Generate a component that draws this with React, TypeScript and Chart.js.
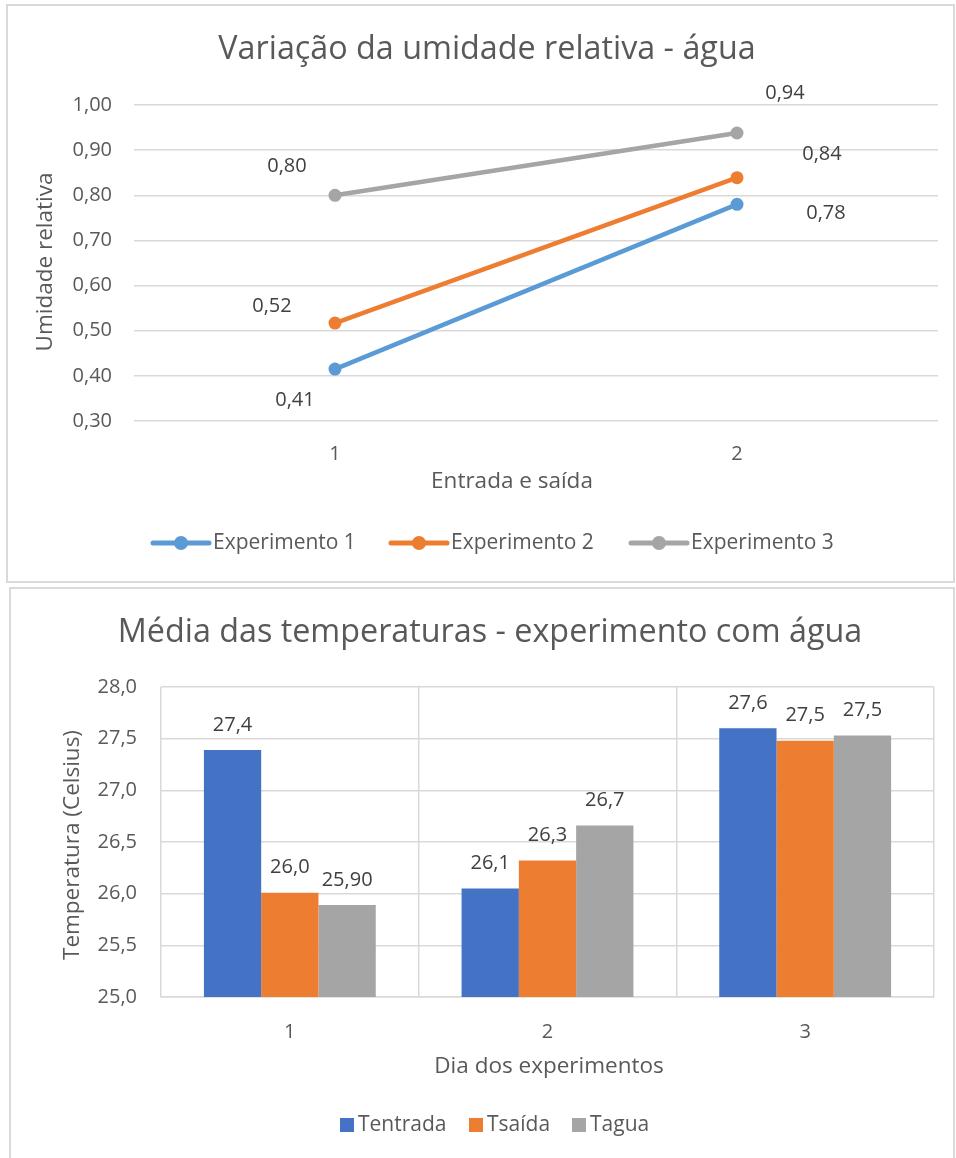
import React, { useEffect, useRef } from "react";
import { Chart, registerables } from "chart.js";

Chart.register(...registerables);

const FONT = "'Open Sans', sans-serif";
const TEXT_COLOR = "#595959";
const LABEL_COLOR = "#404040";
const GRID_COLOR = "#D9D9D9";

// ---------- Chart 1: Variação da umidade relativa - água ----------
const humidityTitle = "Variação da umidade relativa - água";
const humidityXTitle = "Entrada e saída";
const humidityYTitle = "Umidade relativa";
const humidityCategories = ["1", "2"];
const humiditySeriesNames = ["Experimento 1", "Experimento 2", "Experimento 3"];
const experimento1 = [0.415, 0.78];
const experimento2 = [0.517, 0.839];
const experimento3 = [0.8, 0.938];
const experimento1Labels = ["0,41", "0,78"];
const experimento2Labels = ["0,52", "0,84"];
const experimento3Labels = ["0,80", "0,94"];
const humidityMin = 0.3;
const humidityMax = 1.0;
const humidityStep = 0.1;

// ---------- Chart 2: Média das temperaturas ----------
const tempTitle = "Média das temperaturas - experimento com água";
const tempXTitle = "Dia dos experimentos";
const tempYTitle = "Temperatura (Celsius)";
const dayCategories = ["1", "2", "3"];
const tempSeriesNames = ["Tentrada", "Tsaída", "Tagua"];
const tEntrada = [27.39, 26.05, 27.6];
const tSaida = [26.01, 26.32, 27.48];
const tAgua = [25.89, 26.66, 27.53];
const tEntradaLabels = ["27,4", "26,1", "27,6"];
const tSaidaLabels = ["26,0", "26,3", "27,5"];
const tAguaLabels = ["25,90", "26,7", "27,5"];
const tempMin = 25;
const tempMax = 28;
const tempStep = 0.5;

// styles (kept apart from data)
const lineColors = ["#5B9BD5", "#ED7D31", "#A5A5A5"];
const barColors = ["#4472C4", "#ED7D31", "#A5A5A5"];
const lineLabelOffsets = [
  [[-40, 31], [89, 9]],
  [[-63, -17], [85, -23]],
  [[-48, -29], [48, -40]],
];

type TextSpec = { text: string; x: number; y: number; size: number; rotate?: boolean };

function drawText(ctx: CanvasRenderingContext2D, t: TextSpec, color: string) {
  ctx.save();
  ctx.fillStyle = color;
  ctx.font = `${t.size}px ${FONT}`;
  ctx.textAlign = "center";
  ctx.textBaseline = "middle";
  ctx.translate(t.x, t.y);
  if (t.rotate) ctx.rotate(-Math.PI / 2);
  ctx.fillText(t.text, 0, 0);
  ctx.restore();
}

function HumidityChart() {
  const ref = useRef<HTMLCanvasElement | null>(null);
  useEffect(() => {
    if (!ref.current) return;
    const allLabels = [experimento1Labels, experimento2Labels, experimento3Labels];
    const decor = {
      id: "decor1",
      afterDatasetsDraw(chart: any) {
        const ctx = chart.ctx as CanvasRenderingContext2D;
        ctx.save();
        ctx.font = `20px ${FONT}`;
        ctx.fillStyle = LABEL_COLOR;
        ctx.textAlign = "center";
        ctx.textBaseline = "middle";
        chart.data.datasets.forEach((_: any, di: number) => {
          const meta = chart.getDatasetMeta(di);
          meta.data.forEach((el: any, i: number) => {
            const off = lineLabelOffsets[di][i];
            ctx.fillText(allLabels[di][i], el.x + off[0], el.y + off[1]);
          });
        });
        ctx.restore();
      },
      afterDraw(chart: any) {
        const ctx = chart.ctx as CanvasRenderingContext2D;
        drawText(ctx, { text: humidityTitle, x: 487, y: 50, size: 32.3 }, TEXT_COLOR);
        drawText(ctx, { text: humidityXTitle, x: 512, y: 482, size: 22.5 }, TEXT_COLOR);
        drawText(ctx, { text: humidityYTitle, x: 46, y: 262, size: 22.5, rotate: true }, TEXT_COLOR);
        // legend
        const starts = [153, 391, 631];
        const ly = 543;
        humiditySeriesNames.forEach((name, i) => {
          const x0 = starts[i];
          ctx.save();
          ctx.strokeStyle = lineColors[i];
          ctx.lineWidth = 5;
          ctx.lineCap = "round";
          ctx.beginPath();
          ctx.moveTo(x0, ly);
          ctx.lineTo(x0 + 56, ly);
          ctx.stroke();
          ctx.fillStyle = lineColors[i];
          ctx.beginPath();
          ctx.arc(x0 + 28, ly, 7, 0, Math.PI * 2);
          ctx.fill();
          ctx.fillStyle = TEXT_COLOR;
          ctx.font = `21px ${FONT}`;
          ctx.textAlign = "left";
          ctx.textBaseline = "middle";
          ctx.fillText(name, x0 + 60, ly);
          ctx.restore();
        });
      },
    };
    const series = [experimento1, experimento2, experimento3];
    const chart = new Chart(ref.current, {
      type: "line",
      data: {
        labels: humidityCategories,
        datasets: series.map((d, i) => ({
          label: humiditySeriesNames[i],
          data: d,
          borderColor: lineColors[i],
          backgroundColor: lineColors[i],
          borderWidth: 4.5,
          pointRadius: 6.5,
          pointBorderWidth: 0,
          pointBackgroundColor: lineColors[i],
          tension: 0,
        })),
      },
      options: {
        responsive: false,
        animation: false,
        devicePixelRatio: 1,
        layout: { padding: { left: 54, right: 18, top: 105, bottom: 113 } },
        plugins: { legend: { display: false }, title: { display: false }, tooltip: { enabled: false } },
        scales: {
          x: {
            type: "category",
            offset: true,
            grid: { display: false, drawTicks: false },
            border: { display: false },
            ticks: { color: TEXT_COLOR, font: { family: FONT, size: 20 }, padding: 21 },
            afterFit: (s: any) => { s.height = 50; },
          },
          y: {
            min: humidityMin,
            max: humidityMax,
            grid: { color: GRID_COLOR, lineWidth: 1.5, drawTicks: false },
            border: { display: false },
            ticks: {
              stepSize: humidityStep,
              color: TEXT_COLOR,
              font: { family: FONT, size: 20 },
              padding: 22,
              callback: (v: any) => Number(v).toFixed(2).replace(".", ","),
            },
            afterFit: (s: any) => { s.width = 80; },
          },
        },
      },
      plugins: [decor],
    } as any);
    return () => chart.destroy();
  }, []);
  return (
    <canvas ref={ref} width={956} height={584} style={{ position: "absolute", left: 0, top: 0, width: 956, height: 584 }} />
  );
}

function TempChart() {
  const ref = useRef<HTMLCanvasElement | null>(null);
  useEffect(() => {
    if (!ref.current) return;
    const allLabels = [tEntradaLabels, tSaidaLabels, tAguaLabels];
    const decor = {
      id: "decor2",
      afterDatasetsDraw(chart: any) {
        const ctx = chart.ctx as CanvasRenderingContext2D;
        ctx.save();
        ctx.font = `20px ${FONT}`;
        ctx.fillStyle = LABEL_COLOR;
        ctx.textAlign = "center";
        ctx.textBaseline = "middle";
        chart.data.datasets.forEach((_: any, di: number) => {
          const meta = chart.getDatasetMeta(di);
          meta.data.forEach((el: any, i: number) => {
            ctx.fillText(allLabels[di][i], el.x, el.y - 25);
          });
        });
        ctx.restore();
      },
      afterDraw(chart: any) {
        const ctx = chart.ctx as CanvasRenderingContext2D;
        drawText(ctx, { text: tempTitle, x: 490, y: 49, size: 32.3 }, TEXT_COLOR);
        drawText(ctx, { text: tempXTitle, x: 549, y: 483, size: 22.5 }, TEXT_COLOR);
        drawText(ctx, { text: tempYTitle, x: 73, y: 261, size: 22.5, rotate: true }, TEXT_COLOR);
        const sq = [340, 469, 572];
        const ly = 541;
        tempSeriesNames.forEach((name, i) => {
          ctx.save();
          ctx.fillStyle = barColors[i];
          ctx.fillRect(sq[i], ly - 7, 14, 14);
          ctx.fillStyle = TEXT_COLOR;
          ctx.font = `21px ${FONT}`;
          ctx.textAlign = "left";
          ctx.textBaseline = "middle";
          ctx.fillText(name, sq[i] + 18, ly);
          ctx.restore();
        });
      },
    };
    const series = [tEntrada, tSaida, tAgua];
    const chart = new Chart(ref.current, {
      type: "bar",
      data: {
        labels: dayCategories,
        datasets: series.map((d, i) => ({
          label: tempSeriesNames[i],
          data: d,
          backgroundColor: barColors[i],
          borderWidth: 0,
          categoryPercentage: 0.667,
          barPercentage: 1.0,
        })),
      },
      options: {
        responsive: false,
        animation: false,
        devicePixelRatio: 1,
        layout: { padding: { left: 81, right: 22, top: 103, bottom: 111 } },
        plugins: { legend: { display: false }, title: { display: false }, tooltip: { enabled: false } },
        scales: {
          x: {
            type: "category",
            offset: true,
            grid: { display: true, offset: true, color: GRID_COLOR, lineWidth: 1.5, drawTicks: false },
            border: { display: true, color: GRID_COLOR, width: 1.5 },
            ticks: { color: TEXT_COLOR, font: { family: FONT, size: 20 }, padding: 23 },
            afterFit: (s: any) => { s.height = 50; },
          },
          y: {
            min: tempMin,
            max: tempMax,
            grid: { color: GRID_COLOR, lineWidth: 1.5, drawTicks: false },
            border: { display: false },
            ticks: {
              stepSize: tempStep,
              color: TEXT_COLOR,
              font: { family: FONT, size: 20 },
              padding: 24,
              callback: (v: any) => Number(v).toFixed(1).replace(".", ","),
            },
            afterFit: (s: any) => { s.width = 80; },
          },
        },
      },
      plugins: [decor],
    } as any);
    return () => chart.destroy();
  }, []);
  return (
    <canvas ref={ref} width={956} height={574} style={{ position: "absolute", left: 0, top: 584, width: 956, height: 574 }} />
  );
}

export default function App() {
  return (
    <div style={{ position: "absolute", left: 0, top: 0, width: 956, height: 1158, overflow: "hidden", background: "#fff" }}>
      <div style={{ position: "absolute", left: 6, top: 4, width: 949, height: 579, border: `2px solid ${GRID_COLOR}`, boxSizing: "border-box" }} />
      <div style={{ position: "absolute", left: 9, top: 587, width: 946, height: 600, border: `2px solid ${GRID_COLOR}`, boxSizing: "border-box" }} />
      <HumidityChart />
      <TempChart />
    </div>
  );
}
